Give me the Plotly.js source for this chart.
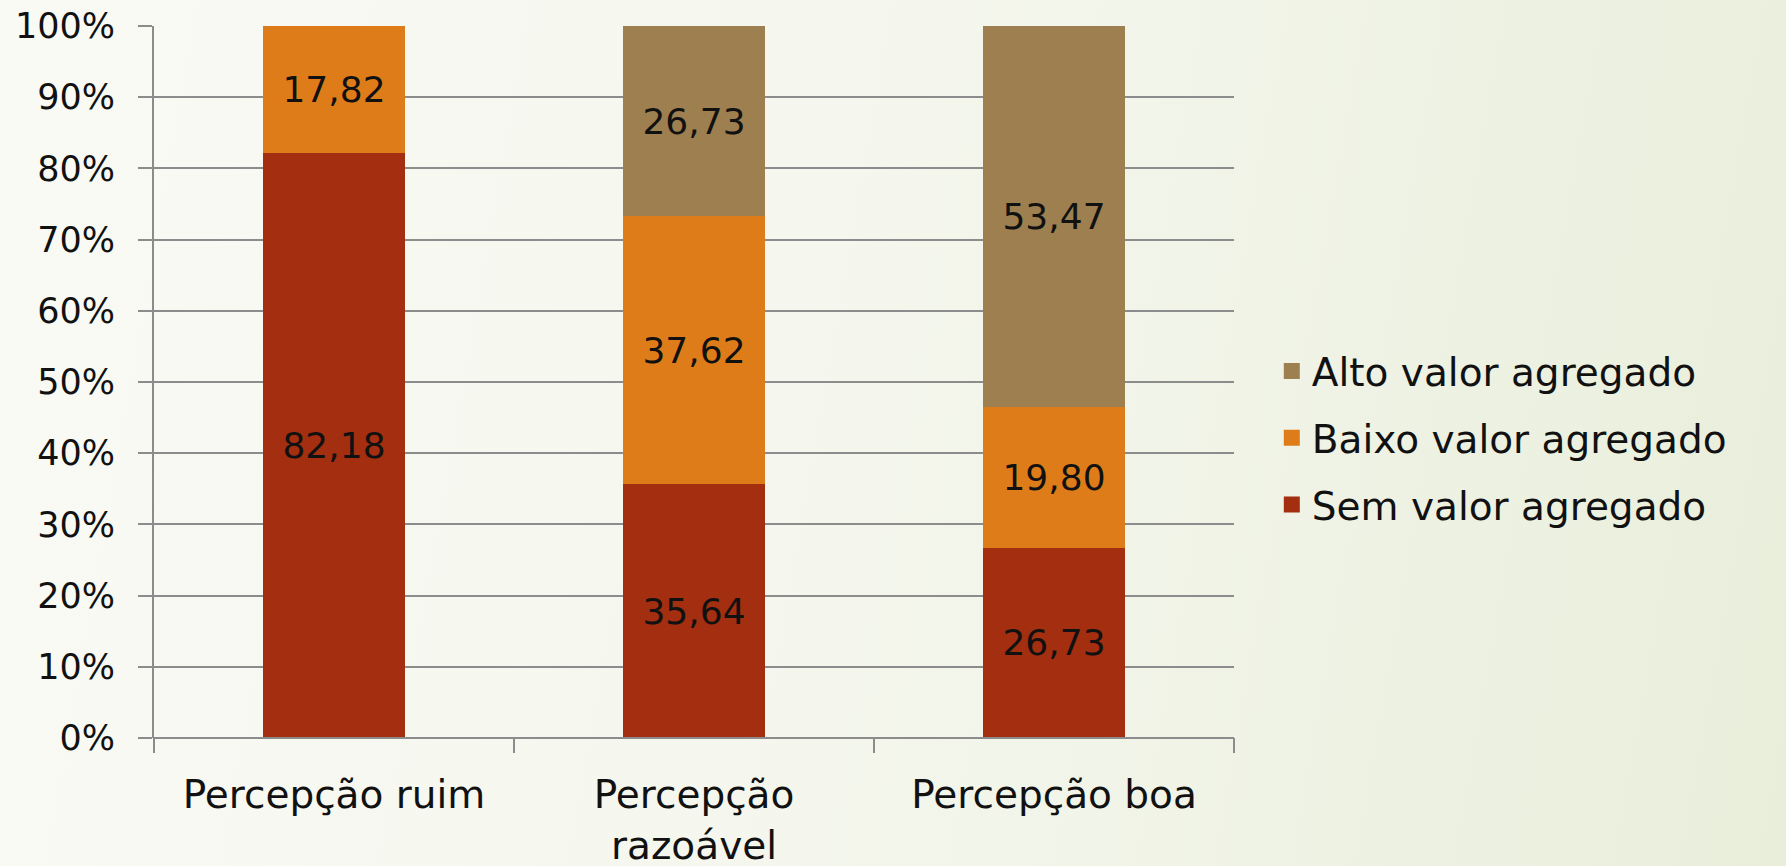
<!DOCTYPE html>
<html>
<head>
<meta charset="utf-8">
<script src="https://cdn.plot.ly/plotly-3.0.1.min.js"></script>
<style>
html,body{margin:0;padding:0;width:1786px;height:866px;overflow:hidden;
background:linear-gradient(100deg,#f9faf4 0%,#f5f7ee 45%,#e9eedb 100%);}
#chart{width:1786px;height:866px;}
</style>
</head>
<body>
<div id="chart"></div>
<script>
const categories = ["Percepção ruim", "Percepção<br>razoável", "Percepção boa"];
const semValor = [82.18, 35.64, 26.73];
const baixoValor = [17.82, 37.62, 19.80];
const altoValor = [0, 26.73, 53.47];
const seriesNames = ["Sem valor agregado", "Baixo valor agregado", "Alto valor agregado"];
const seriesColors = ["#a32e10", "#df7c1a", "#9e7f4f"];
const yTickVals = [0,10,20,30,40,50,60,70,80,90,100];
const yTickText = ["0%","10%","20%","30%","40%","50%","60%","70%","80%","90%","100%"];

const fmt = v => v.toFixed(2).replace('.', ',');
const FONT = "DejaVu Sans, sans-serif";

const seriesVals = [semValor, baixoValor, altoValor];
const traces = seriesVals.map((vals, i) => ({
  type: 'bar',
  name: seriesNames[i],
  showlegend: false,
  x: categories,
  y: vals,
  marker: {color: seriesColors[i], line: {width: 0}},
  text: vals.map(v => v > 0 ? fmt(v) : ''),
  textposition: 'inside',
  insidetextanchor: 'middle',
  textangle: 0,
  textfont: {family: FONT, size: 36, color: '#111'},
  constraintext: 'none',
  hoverinfo: 'skip'
}));
// legend entries (top to bottom: Alto, Baixo, Sem) with larger square swatches
[2, 1, 0].forEach(i => traces.push({
  type: 'scatter', mode: 'markers', name: seriesNames[i], legendgroup: 'L' + i,
  x: [null], y: [null],
  marker: {symbol: 'square', size: 22, color: seriesColors[i]},
  hoverinfo: 'skip'
}));

const layout = {
  barmode: 'stack',
  bargap: 0.605,
  width: 1786, height: 866,
  paper_bgcolor: 'rgba(0,0,0,0)',
  plot_bgcolor: 'rgba(0,0,0,0)',
  margin: {l: 154, r: 552, t: 26, b: 128},
  font: {family: FONT, size: 36, color: '#111'},
  xaxis: {
    showgrid: false,
    showline: false,
    ticks: 'outside', ticklen: 22, tickcolor: 'rgba(0,0,0,0)',
    tickfont: {family: FONT, size: 39, color: '#111'},
    fixedrange: true
  },
  yaxis: {
    range: [0, 100],
    tickvals: yTickVals, ticktext: yTickText,
    showgrid: true, gridcolor: '#8c8c8c', gridwidth: 2,
    zeroline: false,
    showline: true, linecolor: '#8c8c8c', linewidth: 2,
    ticks: 'outside', ticklen: 14, tickcolor: '#8c8c8c', tickwidth: 2,
    ticklabelstandoff: 16,
    tickfont: {family: FONT, size: 35, color: '#111'},
    fixedrange: true
  },
  legend: {
    traceorder: 'grouped',
    tracegroupgap: 13,
    itemsizing: 'trace',
    x: 1.035, xanchor: 'left', y: 0.421, yanchor: 'middle',
    font: {family: FONT, size: 39, color: '#111'},
    bgcolor: 'rgba(0,0,0,0)',
    itemwidth: 30
  },
  shapes: [
    {type:'line', xref:'paper', yref:'paper', x0:0, x1:1, y0:0, y1:0, line:{color:'#8c8c8c', width:2}},
    {type:'line', xref:'paper', yref:'paper', x0:0, x1:0, y0:0, y1:-0.021, line:{color:'#8c8c8c', width:2}},
    {type:'line', xref:'paper', yref:'paper', x0:1/3, x1:1/3, y0:0, y1:-0.021, line:{color:'#8c8c8c', width:2}},
    {type:'line', xref:'paper', yref:'paper', x0:2/3, x1:2/3, y0:0, y1:-0.021, line:{color:'#8c8c8c', width:2}},
    {type:'line', xref:'paper', yref:'paper', x0:1, x1:1, y0:0, y1:-0.021, line:{color:'#8c8c8c', width:2}}
  ]
};

Plotly.newPlot('chart', traces, layout, {displayModeBar: false, staticPlot: true});
</script>
</body>
</html>
